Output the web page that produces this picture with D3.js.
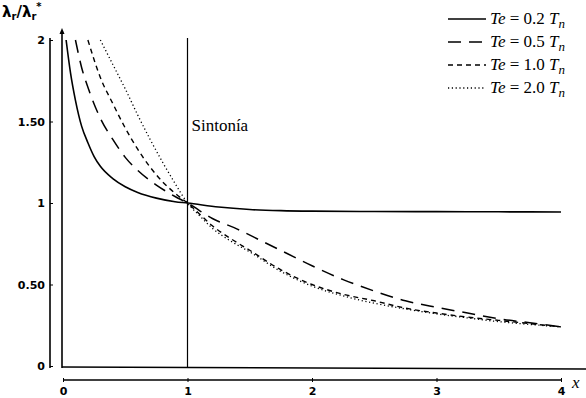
<!DOCTYPE html>
<meta charset="utf-8">
<html>
<head>
  <style>
    body { margin: 0; background: #fff; }
    .curve { fill: none; stroke: #000; }
    .axis path, .axis line { stroke: #000; }
    .ytick text, .xtick text { font: bold 11px "DejaVu Sans", sans-serif; fill: #000; }
    .serif { font-family: "Times New Roman", Times, "Liberation Serif", serif !important; }
  </style>
</head>
<body>
<svg width="586" height="398"></svg>

<script src="https://d3js.org/d3.v7.min.js"></script>
<script>

// Curves: lambda_r / lambda_r* against x
const te02X = [0.025, 0.06, 0.1, 0.15, 0.2, 0.25, 0.3, 0.4, 0.5, 0.6, 0.75, 0.9, 1.0, 1.25, 1.5, 1.75, 2.0, 2.5, 3.0, 3.5, 4.0];
const te02Y = [2.0, 1.80, 1.63, 1.47, 1.37, 1.285, 1.225, 1.15, 1.10, 1.065, 1.03, 1.008, 1.0, 0.975, 0.96, 0.953, 0.95, 0.948, 0.947, 0.946, 0.945];

const te05X = [0.1, 0.15, 0.2, 0.3, 0.4, 0.5, 0.6, 0.75, 0.9, 1.0, 1.2, 1.4, 1.6, 1.8, 2.0, 2.25, 2.5, 2.75, 3.0, 3.25, 3.5, 3.75, 4.0];
const te05Y = [2.0, 1.83, 1.71, 1.52, 1.39, 1.28, 1.20, 1.11, 1.04, 1.0, 0.905, 0.84, 0.765, 0.69, 0.615, 0.53, 0.46, 0.40, 0.36, 0.325, 0.29, 0.265, 0.24];

const te10X = [0.2, 0.3, 0.4, 0.5, 0.6, 0.7, 0.8, 0.9, 1.0, 1.1, 1.2, 1.35, 1.5, 1.75, 2.0, 2.25, 2.5, 2.75, 3.0, 3.25, 3.5, 3.75, 4.0];
const te10Y = [2.0, 1.77, 1.61, 1.46, 1.33, 1.22, 1.13, 1.06, 1.0, 0.93, 0.86, 0.78, 0.71, 0.59, 0.50, 0.44, 0.40, 0.355, 0.325, 0.30, 0.28, 0.26, 0.24];

const te20X = [0.3, 0.4, 0.5, 0.6, 0.7, 0.8, 0.9, 1.0, 1.1, 1.2, 1.35, 1.5, 1.75, 2.0, 2.25, 2.5, 2.75, 3.0, 3.25, 3.5, 3.75, 4.0];
const te20Y = [2.0, 1.85, 1.70, 1.54, 1.39, 1.25, 1.12, 1.0, 0.92, 0.845, 0.765, 0.70, 0.58, 0.49, 0.43, 0.385, 0.35, 0.32, 0.295, 0.272, 0.255, 0.24];

const seriesLabels = ["0.2", "0.5", "1.0", "2.0"];
const xTicks = [0, 1, 2, 3, 4];
const yTicks = [0, 0.5, 1, 1.5, 2];
const yTickLabels = ["0", "0.50", "1", "1.50", "2"];
const tuneX = 1; // "Sintonía" line

const series = [
  { label: seriesLabels[0], xs: te02X, ys: te02Y, dash: null, w: 1.6 },
  { label: seriesLabels[1], xs: te05X, ys: te05Y, dash: "13,8", w: 1.5 },
  { label: seriesLabels[2], xs: te10X, ys: te10Y, dash: "5,4", w: 1.4 },
  { label: seriesLabels[3], xs: te20X, ys: te20Y, dash: "1.2,2.6", w: 1.3 }
];

const svg = d3.select("svg");

const x = d3.scaleLinear().domain([0, 4]).range([63, 561]);
const y = d3.scaleLinear().domain([0, 2]).range([366, 40]);

// y axis on the far left
const yAxis = svg.append("g")
  .attr("class", "axis ytick")
  .attr("transform", "translate(50,0)")
  .call(d3.axisLeft(y)
    .tickValues(yTicks)
    .tickSize(3)
    .tickPadding(2)
    .tickFormat((d, i) => yTickLabels[i]));
yAxis.select(".domain").attr("d", `M0,${y(2) - 2}V${y(0) + 2}`).attr("stroke-width", 1.6);
yAxis.selectAll(".tick line").attr("x2", 3).attr("x1", 0);

// x axis below the plot
const xAxis = svg.append("g")
  .attr("class", "axis xtick")
  .attr("transform", "translate(0,380)")
  .call(d3.axisBottom(x)
    .tickValues(xTicks)
    .tickSize(3)
    .tickPadding(4)
    .tickFormat(d3.format("d")));
xAxis.select(".domain").attr("d", `M${x(0)},0H${x(4)}`).attr("stroke-width", 1.6);
xAxis.selectAll(".tick line").attr("y1", -2).attr("y2", 2);

// vertical line at x = 0 with arrow, and baseline y = 0
svg.append("line")
  .attr("x1", x(0) - 1).attr("x2", x(0) - 1)
  .attr("y1", 31).attr("y2", y(0) + 2)
  .attr("stroke", "#000").attr("stroke-width", 1.6);
svg.append("path")
  .attr("d", `M${x(0) - 1},28l-2.5,6h5z`)
  .attr("fill", "#000");
svg.append("line")
  .attr("x1", x(0) - 1).attr("x2", 586)
  .attr("y1", y(0) + 1).attr("y2", y(0) + 3)
  .attr("stroke", "#000").attr("stroke-width", 1.5);

// tuning line
svg.append("line")
  .attr("x1", x(tuneX)).attr("x2", x(tuneX))
  .attr("y1", 38).attr("y2", y(0) + 2)
  .attr("stroke", "#000").attr("stroke-width", 1.2);
svg.append("text")
  .attr("class", "serif")
  .attr("x", x(tuneX) + 4).attr("y", 131)
  .attr("font-size", 17)
  .text("Sintonía");

// curves
const line = d3.line()
  .x(d => x(d[0]))
  .y(d => y(d[1]))
  .curve(d3.curveMonotoneX);

svg.selectAll(".curve")
  .data(series)
  .join("path")
  .attr("class", "curve")
  .attr("d", s => line(s.xs.map((v, i) => [v, s.ys[i]])))
  .attr("stroke-width", s => s.w)
  .attr("stroke-dasharray", s => s.dash);

// y label
const yl = svg.append("text")
  .attr("x", 2).attr("y", 17)
  .attr("font-family", "DejaVu Sans, sans-serif")
  .attr("font-weight", "bold")
  .attr("font-size", 15);
yl.append("tspan").text("λ");
yl.append("tspan").attr("font-size", 10).attr("dy", 3).text("r");
yl.append("tspan").attr("dy", -3).text("/λ");
yl.append("tspan").attr("font-size", 10).attr("dy", 3).text("r");
yl.append("tspan").attr("font-size", 10).attr("dy", -10).text("*");

// x label
svg.append("text")
  .attr("class", "serif")
  .attr("x", 572).attr("y", 388)
  .attr("font-size", 17)
  .attr("font-style", "italic")
  .text("x");

// legend
const legend = svg.append("g");
series.forEach((s, i) => {
  const ly = 19 + i * 23;
  legend.append("line")
    .attr("x1", 448).attr("x2", 486)
    .attr("y1", ly).attr("y2", ly)
    .attr("stroke", "#000")
    .attr("stroke-width", s.w)
    .attr("stroke-dasharray", s.dash);
  const t = legend.append("text")
    .attr("class", "serif")
    .attr("x", 490).attr("y", ly + 5)
    .attr("font-size", 17);
  t.append("tspan").attr("font-style", "italic").text("Te");
  t.append("tspan").text(" = " + s.label + " ");
  t.append("tspan").attr("font-style", "italic").text("T");
  t.append("tspan").attr("font-style", "italic").attr("font-size", 13).attr("dy", 4).text("n");
});

</script>
</body>
</html>
